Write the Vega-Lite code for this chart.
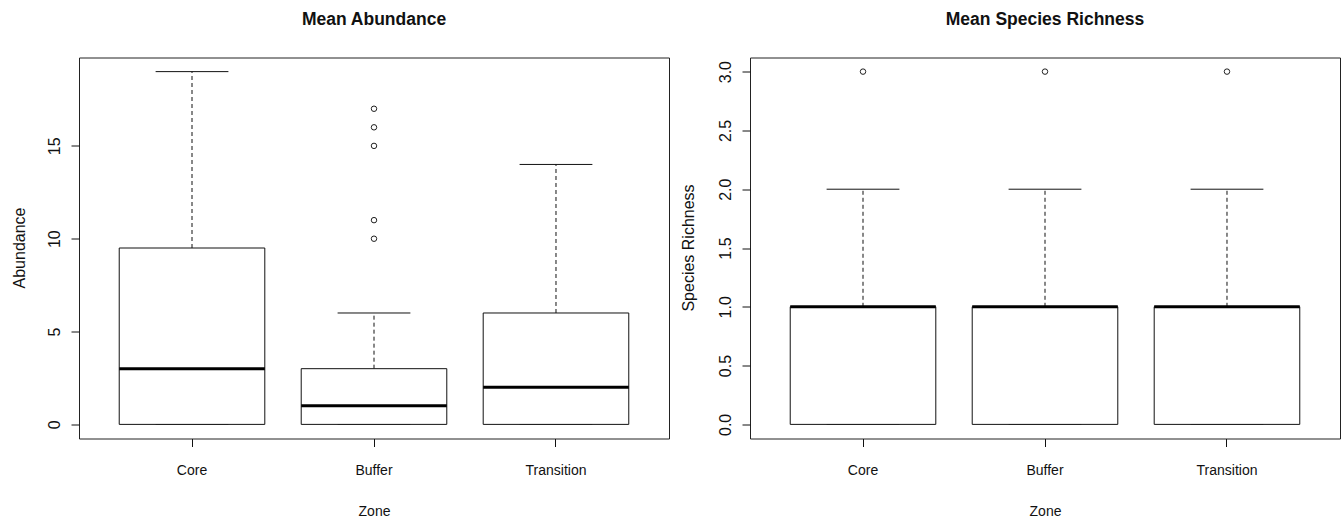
{
  "$schema": "https://vega.github.io/schema/vega-lite/v6.json",
  "padding": {"left": 10, "top": 10.5, "right": 0, "bottom": 0},
  "background": "white",
  "datasets": {
    "abundStats": [
      {"zone": "Core", "lower": 0, "q1": 0, "median": 3, "q3": 9.5, "upper": 19},
      {"zone": "Buffer", "lower": 0, "q1": 0, "median": 1, "q3": 3, "upper": 6},
      {"zone": "Transition", "lower": 0, "q1": 0, "median": 2, "q3": 6, "upper": 14}
    ],
    "abundOut": [
      {"zone": "Buffer", "value": 10},
      {"zone": "Buffer", "value": 11},
      {"zone": "Buffer", "value": 15},
      {"zone": "Buffer", "value": 16},
      {"zone": "Buffer", "value": 17}
    ],
    "richStats": [
      {"zone": "Core", "lower": 0, "q1": 0, "median": 1, "q3": 1, "upper": 2},
      {"zone": "Buffer", "lower": 0, "q1": 0, "median": 1, "q3": 1, "upper": 2},
      {"zone": "Transition", "lower": 0, "q1": 0, "median": 1, "q3": 1, "upper": 2}
    ],
    "richOut": [
      {"zone": "Core", "value": 3},
      {"zone": "Buffer", "value": 3},
      {"zone": "Transition", "value": 3}
    ]
  },
  "bounds": "flush",
  "spacing": 81,
  "hconcat": [
    {
      "width": 590,
      "height": 381,
      "title": {"text": "Mean Abundance", "font": "Liberation Sans", "fontSize": 17.5, "fontWeight": "bold", "baseline": "alphabetic", "offset": 15, "anchor": "middle", "frame": "group", "color": "#111"},
      "encoding": {
        "x": {"field": "zone", "type": "nominal", "sort": ["Core", "Buffer", "Transition"],
          "scale": {"type": "band", "domain": ["Core", "Buffer", "Transition"], "paddingInner": 0.2, "paddingOuter": 0.221},
          "axis": {"title": "Zone", "labelAngle": 0, "tickSize": 8, "labelPadding": 28, "labelBaseline": "alphabetic", "titleBaseline": "alphabetic", "titleY": 77}}
      },
      "layer": [
        {"data": {"name": "abundStats"}, "mark": {"type": "rule", "strokeDash": [4, 3], "color": "#111"},
          "encoding": {"y": {"field": "q3", "type": "quantitative", "title": "Abundance",
            "scale": {"domain": [-0.76, 19.76], "nice": false, "zero": false},
            "axis": {"values": [0, 5, 10, 15], "titleX": -55, "titleY": 190}}, "y2": {"field": "upper"}}},
        {"data": {"name": "abundStats"}, "mark": {"type": "rule", "strokeDash": [4, 3], "color": "#111"},
          "encoding": {"y": {"field": "lower", "type": "quantitative", "title": "Abundance"}, "y2": {"field": "q1"}}},
        {"data": {"name": "abundStats"}, "mark": {"type": "rule", "color": "#111"},
          "encoding": {"x": {"field": "zone", "type": "nominal", "bandPosition": 0.25}, "x2": {"field": "zone", "bandPosition": 0.75}, "y": {"field": "upper", "type": "quantitative", "title": "Abundance"}}},
        {"data": {"name": "abundStats"}, "mark": {"type": "rule", "color": "#111"},
          "encoding": {"x": {"field": "zone", "type": "nominal", "bandPosition": 0.25}, "x2": {"field": "zone", "bandPosition": 0.75}, "y": {"field": "lower", "type": "quantitative", "title": "Abundance"}}},
        {"data": {"name": "abundStats"}, "mark": {"type": "bar", "fill": "white", "stroke": "#111", "strokeWidth": 1},
          "encoding": {"y": {"field": "q1", "type": "quantitative", "title": "Abundance"}, "y2": {"field": "q3"}}},
        {"data": {"name": "abundStats"}, "mark": {"type": "rule", "color": "black", "strokeWidth": 3},
          "encoding": {"x": {"field": "zone", "type": "nominal", "bandPosition": 0}, "x2": {"field": "zone", "bandPosition": 1}, "y": {"field": "median", "type": "quantitative", "title": "Abundance"}}},
        {"data": {"name": "abundOut"}, "mark": {"type": "point", "shape": "circle", "filled": false, "stroke": "#222", "strokeWidth": 1, "size": 30, "opacity": 1},
          "encoding": {"y": {"field": "value", "type": "quantitative", "title": "Abundance"}}}
      ]
    },
    {
      "width": 590,
      "height": 381,
      "title": {"text": "Mean Species Richness", "font": "Liberation Sans", "fontSize": 17.5, "fontWeight": "bold", "baseline": "alphabetic", "offset": 15, "anchor": "middle", "frame": "group", "color": "#111"},
      "encoding": {
        "x": {"field": "zone", "type": "nominal", "sort": ["Core", "Buffer", "Transition"],
          "scale": {"type": "band", "domain": ["Core", "Buffer", "Transition"], "paddingInner": 0.2, "paddingOuter": 0.221},
          "axis": {"title": "Zone", "labelAngle": 0, "tickSize": 8, "labelPadding": 28, "labelBaseline": "alphabetic", "titleBaseline": "alphabetic", "titleY": 77}}
      },
      "layer": [
        {"data": {"name": "richStats"}, "mark": {"type": "rule", "strokeDash": [4, 3], "color": "#111"},
          "encoding": {"y": {"field": "q3", "type": "quantitative", "title": "Species Richness",
            "scale": {"domain": [-0.12, 3.12], "nice": false, "zero": false},
            "axis": {"values": [0, 0.5, 1, 1.5, 2, 2.5, 3], "format": ".1f", "titleX": -57, "titleY": 190}}, "y2": {"field": "upper"}}},
        {"data": {"name": "richStats"}, "mark": {"type": "rule", "strokeDash": [4, 3], "color": "#111"},
          "encoding": {"y": {"field": "lower", "type": "quantitative", "title": "Species Richness"}, "y2": {"field": "q1"}}},
        {"data": {"name": "richStats"}, "mark": {"type": "rule", "color": "#111"},
          "encoding": {"x": {"field": "zone", "type": "nominal", "bandPosition": 0.25}, "x2": {"field": "zone", "bandPosition": 0.75}, "y": {"field": "upper", "type": "quantitative", "title": "Species Richness"}}},
        {"data": {"name": "richStats"}, "mark": {"type": "rule", "color": "#111"},
          "encoding": {"x": {"field": "zone", "type": "nominal", "bandPosition": 0.25}, "x2": {"field": "zone", "bandPosition": 0.75}, "y": {"field": "lower", "type": "quantitative", "title": "Species Richness"}}},
        {"data": {"name": "richStats"}, "mark": {"type": "bar", "fill": "white", "stroke": "#111", "strokeWidth": 1},
          "encoding": {"y": {"field": "q1", "type": "quantitative", "title": "Species Richness"}, "y2": {"field": "q3"}}},
        {"data": {"name": "richStats"}, "mark": {"type": "rule", "color": "black", "strokeWidth": 3},
          "encoding": {"x": {"field": "zone", "type": "nominal", "bandPosition": 0}, "x2": {"field": "zone", "bandPosition": 1}, "y": {"field": "median", "type": "quantitative", "title": "Species Richness"}}},
        {"data": {"name": "richOut"}, "mark": {"type": "point", "shape": "circle", "filled": false, "stroke": "#222", "strokeWidth": 1, "size": 30, "opacity": 1},
          "encoding": {"y": {"field": "value", "type": "quantitative", "title": "Species Richness"}}}
      ]
    }
  ],
  "config": {
    "view": {"stroke": "#222", "strokeWidth": 1},
    "axisX": {"domain": false, "grid": false, "tickColor": "#111", "labelColor": "#111", "titleColor": "#111",
      "labelFont": "Liberation Sans", "labelFontSize": 14, "titleFont": "Liberation Sans", "titleFontSize": 14, "titleFontWeight": "normal"},
    "axisY": {"domain": false, "grid": false, "tickColor": "#111", "labelColor": "#111", "titleColor": "#111", "tickSize": 8,
      "labelAngle": -90, "labelAlign": "center", "labelBaseline": "alphabetic", "labelPadding": 12,
      "labelFont": "Liberation Sans", "labelFontSize": 16, "titleFont": "Liberation Sans", "titleFontSize": 16, "titleFontWeight": "normal",
      "titleAngle": -90, "titleAlign": "center", "titleBaseline": "alphabetic", "labelOverlap": false}
  }
}
